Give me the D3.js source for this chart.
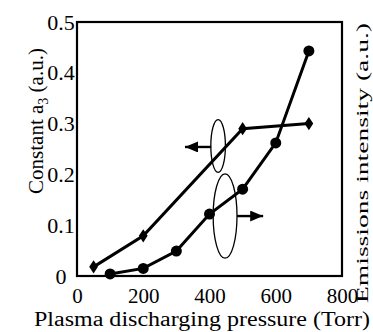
<!DOCTYPE html>
<html>
<head>
<meta charset="utf-8">
<script src="https://cdn.jsdelivr.net/npm/d3@7/dist/d3.min.js"></script>
<style>
  body { margin: 0; background: #fff; }
</style>
</head>
<body>
<div id="chart"></div>
<script>
// pressure (Torr) vs constant a3 (left axis, diamonds)
let pressureA3 = [50, 200, 500, 700];
let constantA3 = [0.018, 0.079, 0.29, 0.30];

// pressure (Torr) vs emission intensity (right axis, circles)
let pressureEm = [100, 200, 300, 400, 500, 600, 700];
let emission = [0.004, 0.015, 0.049, 0.122, 0.171, 0.262, 0.443];

let xTicks = [0, 200, 400, 600, 800];
let yTicks = [0, 0.1, 0.2, 0.3, 0.4, 0.5];

// annotation ellipses (data units) and arrows
let ellipses = [
    {cx: 426, cy: 0.256, rx: 22, ry: 0.052},
    {cx: 447, cy: 0.118, rx: 36, ry: 0.083}
];
let arrows = [
    {x1: 405, x2: 326, y: 0.254},
    {x1: 483, x2: 562, y: 0.118}
];

let FONT = 'Liberation Serif';
let WIDTH = 373, HEIGHT = 332;
let svg = d3.select('#chart').append('svg')
    .attr('width', WIDTH)
    .attr('height', HEIGHT)
    .attr('font-family', FONT);

let x = d3.scaleLinear().domain([0, 800]).range([77, 342]);
let y = d3.scaleLinear().domain([0, 0.5]).range([276, 22]);

svg.append('defs').append('marker')
    .attr('id', 'head')
    .attr('viewBox', '0 0 13 11')
    .attr('preserveAspectRatio', 'none')
    .attr('refX', 13).attr('refY', 5.5)
    .attr('markerWidth', 13).attr('markerHeight', 11)
    .attr('markerUnits', 'userSpaceOnUse')
    .attr('orient', 'auto')
    .append('path')
    .attr('d', 'M0,0L13,5.5L0,11Z')
    .attr('fill', '#000');

// frame
svg.append('rect')
    .attr('x', x(0)).attr('y', y(0.5))
    .attr('width', x(800) - x(0)).attr('height', y(0) - y(0.5))
    .attr('fill', 'none').attr('stroke', '#000').attr('stroke-width', 2.2);

// axes
let xAxis = svg.append('g')
    .attr('transform', `translate(0,${y(0) + 9})`)
    .call(d3.axisBottom(x).tickValues(xTicks).tickSize(0).tickFormat(d3.format('d')));
xAxis.attr('font-family', FONT).attr('font-size', 21);
xAxis.select('.domain').remove();
xAxis.selectAll('text').attr('dy', '0.7em');

let yAxis = svg.append('g')
    .attr('transform', `translate(${x(0) - 16},0)`)
    .call(d3.axisLeft(y).tickValues(yTicks).tickSize(0).tickFormat(d => d === 0 ? '0' : d3.format('.1f')(d)));
yAxis.attr('font-family', FONT).attr('font-size', 22);
yAxis.select('.domain').remove();
yAxis.selectAll('text').attr('text-anchor', 'middle').attr('x', 0);

// lines
let lineA3 = d3.line().x((d, i) => x(pressureA3[i])).y(d => y(d));
let lineEm = d3.line().x((d, i) => x(pressureEm[i])).y(d => y(d));

svg.append('path').attr('d', lineA3(constantA3))
    .attr('fill', 'none').attr('stroke', '#000').attr('stroke-width', 3);
svg.append('path').attr('d', lineEm(emission))
    .attr('fill', 'none').attr('stroke', '#000').attr('stroke-width', 3);

svg.selectAll('.diamond')
    .data(constantA3)
    .enter()
    .append('path')
    .attr('d', d3.symbol().type(d3.symbolDiamond).size(50))
    .attr('transform', (d, i) => `translate(${x(pressureA3[i])},${y(d)}) scale(1.15,1)`)
    .attr('fill', '#000');

svg.selectAll('.dot')
    .data(emission)
    .enter()
    .append('circle')
    .attr('cx', (d, i) => x(pressureEm[i]))
    .attr('cy', d => y(d))
    .attr('r', 5.5)
    .attr('fill', '#000');

// annotations
svg.selectAll('.ell')
    .data(ellipses)
    .enter()
    .append('ellipse')
    .attr('cx', d => x(d.cx))
    .attr('cy', d => y(d.cy))
    .attr('rx', d => x(d.rx) - x(0))
    .attr('ry', d => y(0) - y(d.ry))
    .attr('fill', 'none').attr('stroke', '#000').attr('stroke-width', 1.3);

svg.selectAll('.arr')
    .data(arrows)
    .enter()
    .append('line')
    .attr('x1', d => x(d.x1)).attr('x2', d => x(d.x2))
    .attr('y1', d => y(d.y)).attr('y2', d => y(d.y))
    .attr('stroke', '#000').attr('stroke-width', 2.4)
    .attr('marker-end', 'url(#head)');

// labels
svg.append('text')
    .attr('x', 202).attr('y', 326)
    .attr('text-anchor', 'middle').attr('font-size', 20)
    .attr('textLength', 336).attr('lengthAdjust', 'spacingAndGlyphs')
    .text('Plasma discharging pressure (Torr)');

let yl = svg.append('text')
    .attr('transform', 'translate(43,121) rotate(-90)')
    .attr('text-anchor', 'middle').attr('font-size', 21);
yl.append('tspan').text('Constant a');
yl.append('tspan').attr('font-size', 14).attr('dy', 5).text('3');
yl.append('tspan').attr('dy', -5).text(' (a.u.)');

svg.append('text')
    .attr('transform', 'translate(368,163) rotate(-90)')
    .attr('text-anchor', 'middle').attr('font-size', 16)
    .attr('textLength', 280).attr('lengthAdjust', 'spacingAndGlyphs')
    .text('Emissions intensity (a.u.)');
</script>
</body>
</html>
